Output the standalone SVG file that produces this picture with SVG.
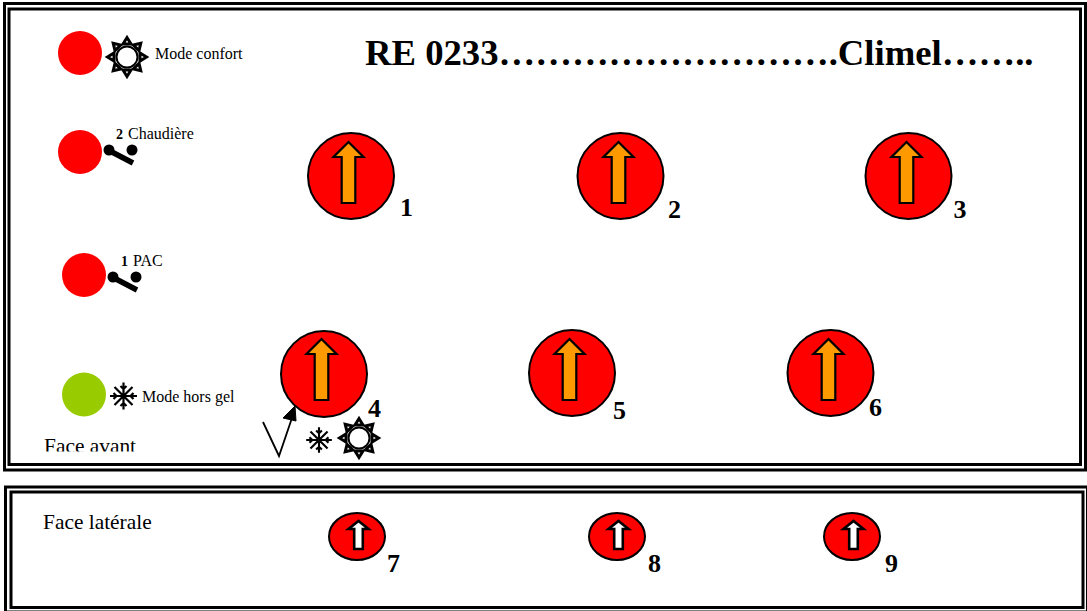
<svg xmlns="http://www.w3.org/2000/svg" xmlns:xlink="http://www.w3.org/1999/xlink" width="1087" height="611" viewBox="0 0 1087 611">
<style>
text{font-family:"Liberation Serif","Times New Roman",serif;fill:#000}
.n{font-size:26px;font-weight:bold}
.s{font-size:16px}
.b{font-weight:bold;font-size:14px}
.f{font-size:21.400px}
.frame{fill:none;stroke:#000;stroke-width:3}
.led{stroke:none}
.knob{fill:#f00;stroke:#000;stroke-width:2}
.ar{fill:#f90;stroke:#000;stroke-width:2.2}
.arw{fill:#fff;stroke:#000;stroke-width:2.600}
.ic{fill:none;stroke:#000;stroke-width:2.200}
</style>
<defs>
<clipPath id="cut"><rect x="30" y="430" width="120" height="21.500"/></clipPath>
<g id="sun">
<g id="ray"><path d="M-4,-13 L0,-19.500 L4,-13 Z" fill="#fff" stroke="#000" stroke-width="3" stroke-linejoin="miter"/></g>
<use xlink:href="#ray" transform="rotate(45)"/><use xlink:href="#ray" transform="rotate(90)"/><use xlink:href="#ray" transform="rotate(135)"/><use xlink:href="#ray" transform="rotate(180)"/><use xlink:href="#ray" transform="rotate(225)"/><use xlink:href="#ray" transform="rotate(270)"/><use xlink:href="#ray" transform="rotate(315)"/>
<circle r="10.500" fill="#fff" stroke="#000" stroke-width="2"/></g>
<g id="flake" class="ic"><path d="M0,-13.500V13.500M-13.500,0H13.500M-9,-9L9,9M9,-9L-9,9M-3,-10L0,-7L3,-10M-3,10L0,7L3,10M-10,-3L-7,0L-10,3M10,-3L7,0L10,3"/></g>
<g id="sw"><circle cx="0" cy="0" r="5.500" fill="#000"/><circle cx="23" cy="0" r="5.500" fill="#000"/><path d="M1,1L24,13" stroke="#000" stroke-width="5.500" fill="none"/></g>
<path id="arrow" class="ar" d="M-6.800,35V-11H-15L0,-26L15,-11H6.800V35Z"/>
<path id="arrowS" class="arw" d="M-4.300,13V-7H-10L0,-15L10,-7H4.300V13Z"/>
</defs>

<g id="frames">
<rect class="frame" x="4.500" y="3.500" width="1081" height="466.500"/>
<rect class="frame" x="9" y="9" width="1071.500" height="455.500"/>
<rect class="frame" x="5.500" y="487" width="1082" height="125"/>
<rect class="frame" x="11" y="492" width="1072" height="115.500"/>
</g>

<g id="title"><text x="365" y="65" font-size="36.700" font-weight="bold">RE 0233……………………….Climel……..</text></g>

<g id="mode-confort"><circle class="led" cx="80" cy="53" r="22" fill="#f00"/><use xlink:href="#sun" transform="translate(127,57)"/><text class="s" x="155" y="59">Mode confort</text></g>
<g id="chaudiere"><circle class="led" cx="80" cy="152" r="22" fill="#f00"/><use xlink:href="#sw" transform="translate(109,150)"/><text class="s" x="116" y="139"><tspan class="b">2</tspan> <tspan x="128">Chaudière</tspan></text></g>
<g id="pac"><circle class="led" cx="84" cy="275" r="22" fill="#f00"/><use xlink:href="#sw" transform="translate(113,277)"/><text class="s" x="121" y="266"><tspan class="b">1</tspan> <tspan x="133">PAC</tspan></text></g>
<g id="mode-hors-gel"><circle class="led" cx="84" cy="394.500" r="22" fill="#9c0"/><use xlink:href="#flake" transform="translate(123.500,396)"/><text class="s" x="142" y="402">Mode hors gel</text></g>
<g id="face-avant"><text class="f" x="44" y="452.500" clip-path="url(#cut)">Face avant</text></g>

<g id="k1"><circle class="knob" cx="351" cy="176" r="43"/><use xlink:href="#arrow" transform="translate(348.500,168)"/><text class="n" x="400" y="216">1</text></g>
<g id="k2"><circle class="knob" cx="620.500" cy="176" r="43"/><use xlink:href="#arrow" transform="translate(618.500,168)"/><text class="n" x="668" y="218">2</text></g>
<g id="k3"><circle class="knob" cx="908.500" cy="176" r="43"/><use xlink:href="#arrow" transform="translate(906.500,168)"/><text class="n" x="953.500" y="218">3</text></g>
<g id="k4"><circle class="knob" cx="324" cy="374" r="43"/><use xlink:href="#arrow" transform="translate(321.500,365)"/><text class="n" x="368" y="417">4</text></g>
<g id="k5"><circle class="knob" cx="572" cy="373" r="43"/><use xlink:href="#arrow" transform="translate(569.500,365)"/><text class="n" x="613" y="419">5</text></g>
<g id="k6"><circle class="knob" cx="830.500" cy="373" r="43"/><use xlink:href="#arrow" transform="translate(828.500,365)"/><text class="n" x="869" y="416">6</text></g>

<g id="selector"><use xlink:href="#flake" transform="translate(319,440) scale(.95)"/><use xlink:href="#sun" transform="translate(359,438)"/>
<path d="M263,422L279,456L293,415" fill="none" stroke="#000" stroke-width="1.800"/><path d="M295,406L283,418L296,421Z" fill="#000" stroke="#000"/></g>

<g id="face-laterale"><text class="f" x="43" y="529">Face latérale</text></g>
<g id="k7"><ellipse class="knob" cx="357" cy="536.500" rx="28" ry="23.500"/><use xlink:href="#arrowS" transform="translate(358.500,536)"/><text class="n" x="387" y="572">7</text></g>
<g id="k8"><ellipse class="knob" cx="617" cy="536.500" rx="28" ry="23.500"/><use xlink:href="#arrowS" transform="translate(618.500,536)"/><text class="n" x="648" y="572">8</text></g>
<g id="k9"><ellipse class="knob" cx="852" cy="536.500" rx="28" ry="23.500"/><use xlink:href="#arrowS" transform="translate(853.500,536)"/><text class="n" x="885" y="572">9</text></g>
</svg>
